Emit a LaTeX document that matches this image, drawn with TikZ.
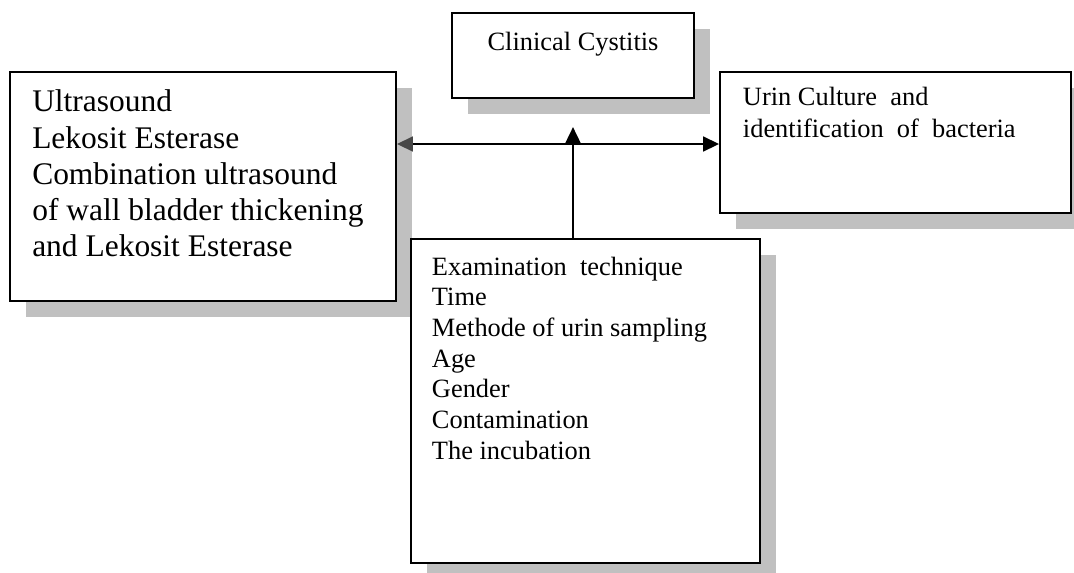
\documentclass[tikz,border=0pt]{standalone}
\usepackage{fontspec}
\setmainfont{Liberation Serif}
\usepackage{tikz}
\usetikzlibrary{arrows.meta}
\usetikzlibrary{shadows}
\usetikzlibrary{calc}
\definecolor{shadowgray}{rgb}{0.753,0.753,0.753}
\definecolor{tipgray}{rgb}{0.28,0.28,0.28}

\tikzset{
  box/.style={draw, line width=1.3pt, fill=white, inner sep=0pt,
    drop shadow={shadow xshift=12pt, shadow yshift=-12pt, fill=shadowgray, opacity=1}},
  boxtext/.style={inner sep=0pt, align=left, anchor=north west},
  link/.style={line width=1.9pt, -{Triangle[length=12pt, width=11pt]}},
}

\begin{document}
\begin{tikzpicture}[x=0.75pt, y=-0.75pt]
  \useasboundingbox (0, 0) rectangle (1074, 572);

  \node[box, minimum width=181.5pt, minimum height=63.75pt] (clinical) at (573, 55.5) {};
  \node[box, minimum width=289.5pt, minimum height=171.75pt] (tests) at (203, 186.5) {};
  \node[box, minimum width=263.25pt, minimum height=105.75pt] (culture) at (895.5, 142.5) {};
  \node[box, minimum width=261.75pt, minimum height=243pt] (factors) at (585.5, 401) {};

  \node[anchor=base, inner sep=0pt, font=\fontsize{19.8pt}{23pt}\selectfont]
    (clinicaltext) at (573, 50.7) {Clinical Cystitis};
  \node[boxtext, font=\fontsize{23.6pt}{27.15pt}\selectfont] (teststext) at (32, 89.8)
    {Ultrasound\\Lekosit Esterase\\Combination ultrasound\\of wall bladder thickening\\and Lekosit Esterase};
  \node[boxtext, font=\fontsize{19.8pt}{23.8pt}\selectfont] (culturetext) at (742.7, 86.7)
    {Urin Culture~ and\\identification~ of~ bacteria};
  \node[boxtext, font=\fontsize{19.8pt}{23pt}\selectfont] (factorstext) at (431.7, 256.7)
    {Examination~ technique\\Time\\Methode of urin sampling\\Age\\Gender\\Contamination\\The incubation};

  \coordinate (hub) at (573, 144);
  \coordinate (tip) at (573, 127);
  \draw[link, {Triangle[length=12pt, width=11pt, color=tipgray]}-{Triangle[length=12pt, width=11pt]}]
    (tests.east |- hub) -- (culture.west |- hub);
  \draw[link] (clinical.south |- factors.north) -- (tip);
\end{tikzpicture}
\end{document}
